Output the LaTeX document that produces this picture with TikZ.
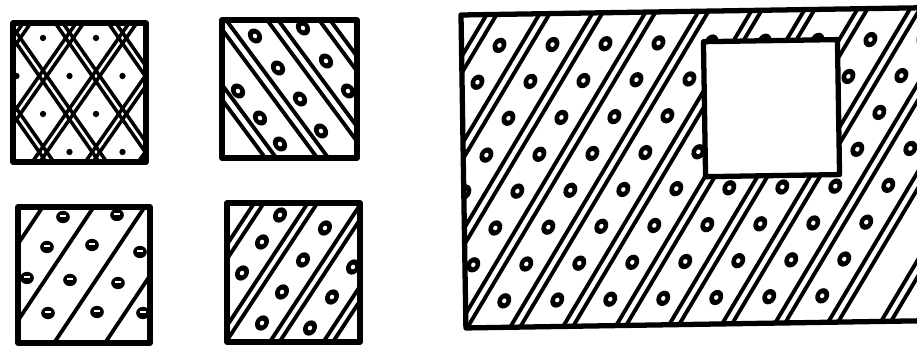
\documentclass[tikz,border=0pt]{standalone}
\usepackage{tikz}
\tikzset{
    frame/.style={draw, line width=3pt, line join=round},
    hatch line/.style={line width=2.2pt},
    fine line/.style={line width=2pt},
    ring dot/.pic={
        \fill (0,0) ellipse [x radius=3.7pt, y radius=4.6pt];
        \fill[white] (0,0) ellipse [x radius=1.2pt, y radius=1.4pt];
    },
    bar dot/.pic={
        \fill (0,0) ellipse [x radius=3.9pt, y radius=3.5pt];
        \draw[white, line width=1pt] (-3,-1) -- (3,-1);
    }
}

\begin{document}
\begin{tikzpicture}[x=0.02cm, y=-0.02cm]
    \useasboundingbox (0,0) rectangle (917,347);

    % crossed double lines
    \begin{scope}
        \clip (13,23) rectangle (146,162);
        \foreach \k in {-3,...,3} {
            \foreach \o in {-3.8,3.8} {
                \draw[fine line] ({69.5+53*(\k)+(\o)-106},190) -- ++(212,-304);
                \draw[fine line] ({16.5+53*(\k)+(\o)-106},-114) -- ++(212,304);
            }
        }
        \foreach \x/\y in {43/38, 96/38, 16.5/76, 69.5/76, 122.5/76, 43/114, 96/114, 69.5/152, 122.5/152}
            \fill (\x,\y) circle [radius=1.8pt];
    \end{scope}
    \draw[frame] (13,23) rectangle (146,162);

    \begin{scope}
        \clip (222,20) rectangle (357,158);
        \foreach \k in {-3,...,2} {
            \foreach \o in {-5.5,5.5} {
                \draw[hatch line] ({320+52*(\k)+(\o)-120},-78) -- ++(240,324);
            }
        }
        \foreach \x/\y in {255/36, 303/28, 278/68, 326/61, 238/91, 300/99, 348/91, 260/118, 321/131, 280/144}
            \pic[rotate=38] at (\x,\y) {ring dot};
    \end{scope}
    \draw[frame] (222,20) rectangle (357,158);

    \begin{scope}
        \clip (18,207) rectangle (150,343);
        \foreach \k in {-1,...,2}
            \draw[hatch line] ({93+51*(\k)-100},358) -- ++(200,-300);
        \foreach \x/\y in {63/217, 117/215, 47/247, 92/245, 140/252, 27/278, 70/280, 118/283, 48/313, 97/312, 143/313}
            \pic at (\x,\y) {bar dot};
    \end{scope}
    \draw[frame] (18,207) rectangle (150,343);

    \begin{scope}
        \clip (227,203) rectangle (360,342);
        \foreach \k in {-2,...,2} {
            \foreach \o in {-4.8,4.8} {
                \draw[hatch line] ({268.5+53.5*(\k)+(\o)-100},422) -- ++(200,-304);
            }
        }
        \foreach \x/\y in {280/215, 325/228, 262/242, 303/260, 353/267, 242/273, 282/292, 332/297, 262/323, 310/328}
            \pic[rotate=-33] at (\x,\y) {ring dot};
    \end{scope}
    \draw[frame] (227,203) rectangle (360,342);

    % large plate with window
    \begin{scope}[rotate around={0.9:(461,15)}]
        \begin{scope}
            \clip (461,15) rectangle (930,328);
            \foreach \k in {-1,...,12} {
                \foreach \o in {-5,5} {
                    \draw[hatch line] ({472.5+53*(\k)+(\o)-185.4},346) -- ++(222.5,-360);
                }
            }
            \foreach \j in {0,...,7} {
                \foreach \i in {-1,...,9} {
                    \pic[rotate=-32] at ({499-22.6*(\j)+53*(\i)},{46+36.5*(\j)}) {ring dot};
                }
            }
        \end{scope}
        \draw[frame, fill=white] (703,45.5) rectangle (837,180.5);
        \draw[frame] (930,15) -- (461,15) -- (461,328) -- (930,328);
    \end{scope}
\end{tikzpicture}
\end{document}
